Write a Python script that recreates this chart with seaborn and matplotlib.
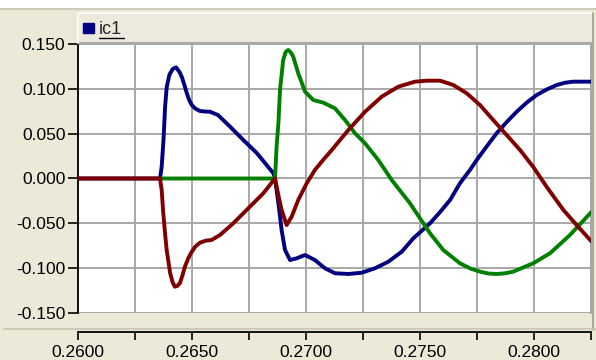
import numpy as np
import pandas as pd
import seaborn as sns
import matplotlib
matplotlib.use("Agg")
import matplotlib.pyplot as plt
from matplotlib.ticker import MultipleLocator, FormatStrFormatter
from matplotlib.patches import Rectangle, Patch
from matplotlib.lines import Line2D

# ---------------- data ----------------
t_blue = [0.26000, 0.26360, 0.26367, 0.26375, 0.26382, 0.26389, 0.26401, 0.26416,
          0.26430, 0.26445, 0.26455, 0.26466, 0.26477, 0.26488, 0.26499, 0.26515,
          0.26535, 0.26557, 0.26579, 0.26614, 0.26667, 0.26725, 0.26784, 0.26857,
          0.26864, 0.26879, 0.26893, 0.26908, 0.26930, 0.26959, 0.26996, 0.27039,
          0.27083, 0.27127, 0.27186, 0.27244, 0.27303, 0.27361, 0.27420, 0.27471,
          0.27544, 0.27588, 0.27632, 0.27675, 0.27719, 0.27749, 0.27793, 0.27836,
          0.27880, 0.27924, 0.27968, 0.28012, 0.28056, 0.28100, 0.28136, 0.28172,
          0.28253]
v_blue = [0.0, 0.0, 0.0134, 0.0430, 0.0800, 0.1020, 0.1160, 0.1225,
          0.1242, 0.1190, 0.1137, 0.1050, 0.0955, 0.0875, 0.0821, 0.0780,
          0.0754, 0.0748, 0.0746, 0.0709, 0.0579, 0.0430, 0.0285, 0.0058,
          0.0, -0.0277, -0.0575, -0.0799, -0.0911, -0.0892, -0.0855, -0.0911,
          -0.1003, -0.1059, -0.1067, -0.1053, -0.1003, -0.0930, -0.0818, -0.0668,
          -0.0501, -0.0375, -0.0240, -0.0054, 0.0095, 0.0207, 0.0360, 0.0505,
          0.0630, 0.0746, 0.0848, 0.0933, 0.0995, 0.1045, 0.1070, 0.1082,
          0.1082]

t_red = [0.26000, 0.26360, 0.26367, 0.26374, 0.26382, 0.26389, 0.26404, 0.26415,
         0.26425, 0.26436, 0.26447, 0.26458, 0.26469, 0.26484, 0.26499, 0.26515,
         0.26535, 0.26560, 0.26586, 0.26623, 0.26681, 0.26754, 0.26813, 0.26864,
         0.26878, 0.26893, 0.26915, 0.26937, 0.26966, 0.27003, 0.27039, 0.27076,
         0.27113, 0.27150, 0.27186, 0.27259, 0.27332, 0.27405, 0.27478, 0.27531,
         0.27588, 0.27646, 0.27705, 0.27763, 0.27821, 0.27880, 0.27939, 0.27997,
         0.28056, 0.28129, 0.28187, 0.28253]
v_red = [0.0, 0.0, -0.0130, -0.0385, -0.0620, -0.0799, -0.1056, -0.1160,
         -0.1209, -0.1200, -0.1168, -0.1085, -0.0985, -0.0890, -0.0818, -0.0760,
         -0.0717, -0.0695, -0.0687, -0.0631, -0.0501, -0.0315, -0.0165, 0.0,
         -0.0175, -0.0352, -0.0520, -0.0427, -0.0240, -0.0054, 0.0095, 0.0210,
         0.0318, 0.0432, 0.0542, 0.0746, 0.0914, 0.1026, 0.1082, 0.1093,
         0.1093, 0.1045, 0.0952, 0.0821, 0.0654, 0.0486, 0.0318, 0.0128,
         -0.0095, -0.0352, -0.0520, -0.0706]

t_green = [0.26360, 0.26864, 0.26871, 0.26879, 0.26886, 0.26900, 0.26911, 0.26922,
           0.26933, 0.26944, 0.26966, 0.26996, 0.27032, 0.27076, 0.27127, 0.27171,
           0.27215, 0.27259, 0.27317, 0.27376, 0.27456, 0.27500, 0.27544, 0.27602,
           0.27675, 0.27720, 0.27763, 0.27800, 0.27836, 0.27872, 0.27909, 0.27997,
           0.28070, 0.28158, 0.28253]
v_green = [0.0, 0.0, 0.0355, 0.0617, 0.0989, 0.1324, 0.1415, 0.1436,
           0.1410, 0.1361, 0.1175, 0.0970, 0.0877, 0.0847, 0.0784, 0.0654,
           0.0505, 0.0393, 0.0207, -0.0017, -0.0277, -0.0445, -0.0612, -0.0799,
           -0.0947, -0.1005, -0.1041, -0.1062, -0.1067, -0.1060, -0.1041, -0.0947,
           -0.0836, -0.0631, -0.0371]

series_names = ["ic1", "ic3", "ic2"]          # drawing order: blue, green, red
legend_label = "ic1"
y_ticks = [-0.150, -0.100, -0.050, 0.000, 0.050, 0.100, 0.150]
x_major = [0.2600, 0.2650, 0.2700, 0.2750, 0.2800]

# ---------------- styling ----------------
BG = "#ECE9D8"
C_BLUE, C_RED, C_GREEN = "#000080", "#800000", "#008000"
GRID = "#A8A8A8"
FS = 12.5

sns.set_theme(style="white")
plt.rcParams["font.family"] = ["Liberation Sans", "DejaVu Sans"]
plt.rcParams["axes.unicode_minus"] = False

df = pd.concat([
    pd.DataFrame({"t": t_blue, "v": v_blue, "s": series_names[0]}),
    pd.DataFrame({"t": t_green, "v": v_green, "s": series_names[1]}),
    pd.DataFrame({"t": t_red, "v": v_red, "s": series_names[2]}),
], ignore_index=True)

W, H = 596, 360
fig = plt.figure(figsize=(W / 100, H / 100), dpi=100, facecolor=BG)

def fx(px):
    return px / W

def fy(py):
    return 1 - py / H

# top white strip and separator lines
fig.add_artist(Rectangle((0, fy(8)), 1, 1 - fy(8), transform=fig.transFigure,
                         facecolor="white", edgecolor="none", zorder=0))
fig.add_artist(Line2D([0, 1], [fy(9), fy(9)], transform=fig.transFigure,
                      color="#C8C4B2", lw=1.2))
# legend bar
fig.add_artist(Rectangle((fx(78), fy(43)), fx(514), fy(13) - fy(43),
                         transform=fig.transFigure, facecolor="#EDEADD",
                         edgecolor="none", zorder=0))
fig.add_artist(Line2D([fx(78), fx(78)], [fy(43), fy(13)], transform=fig.transFigure,
                      color="white", lw=1.2))
fig.add_artist(Line2D([fx(78), fx(592)], [fy(13), fy(13)], transform=fig.transFigure,
                      color="white", lw=1.2))
fig.add_artist(Line2D([fx(592.5), fx(592.5)], [fy(330), fy(13)], transform=fig.transFigure,
                      color="#A09C8C", lw=1.2))
# separator above x axis
fig.add_artist(Line2D([fx(4), 1], [fy(329), fy(329)], transform=fig.transFigure,
                      color="#C8C4B2", lw=1.2))

ax = fig.add_axes([fx(78), fy(313), fx(513), fy(43) - fy(313)])
ax.set_facecolor("white")

sns.lineplot(data=df, x="t", y="v", hue="s", hue_order=series_names,
             palette=[C_BLUE, C_GREEN, C_RED], estimator=None, sort=False,
             linewidth=2.8, legend=False, ax=ax, zorder=3)

ax.set_xlim(0.2600, 0.2825)
ax.set_ylim(-0.1503, 0.1514)
ax.set_xlabel("")
ax.set_ylabel("")

ax.set_yticks(y_ticks)
ax.yaxis.set_major_formatter(FormatStrFormatter("%.3f"))
ax.set_xticks(x_major)
ax.xaxis.set_major_formatter(FormatStrFormatter("%.4f"))
ax.xaxis.set_minor_locator(MultipleLocator(0.0025))

ax.grid(True, which="both", axis="x", color=GRID, lw=1.4)
ax.grid(True, which="major", axis="y", color=GRID, lw=1.4)
ax.set_axisbelow(True)

ax.tick_params(axis="y", which="major", direction="out", length=7, width=1.2,
               color="black", pad=2, labelsize=FS, labelcolor="black", left=True)
ax.tick_params(axis="x", which="both", direction="out", length=6, width=1.2,
               color="black", pad=3, labelsize=FS, labelcolor="black", bottom=True)

for side in ["top", "right"]:
    ax.spines[side].set_color(GRID)
    ax.spines[side].set_linewidth(1.4)
ax.spines["left"].set_color("black")
ax.spines["left"].set_linewidth(1.3)
ax.spines["bottom"].set_color("black")
ax.spines["bottom"].set_linewidth(1.3)
ax.spines["bottom"].set_position(("outward", 13.7))

# legend in the top bar
leg = fig.legend(handles=[Patch(facecolor=C_BLUE, edgecolor=C_BLUE, label=legend_label)],
                 loc="center left", bbox_to_anchor=(fx(83), fy(30)),
                 frameon=False, fontsize=13, handlelength=0.6, handleheight=0.45,
                 handletextpad=0.3, borderpad=0, borderaxespad=0)
fig.add_artist(Line2D([fx(99), fx(124)], [fy(38), fy(38)], transform=fig.transFigure,
                      color="black", lw=1.0))

fig.savefig("out.png", dpi=100, facecolor=BG)
